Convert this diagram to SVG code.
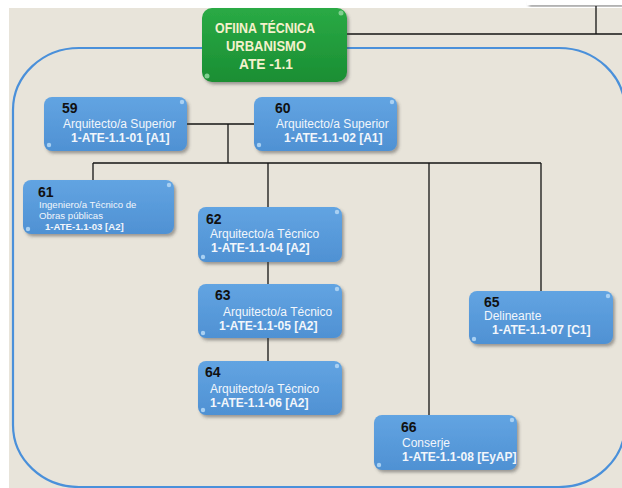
<svg xmlns="http://www.w3.org/2000/svg" width="622" height="488" viewBox="0 0 622 488">
<defs>
<filter id="sh" x="-10%" y="-10%" width="130%" height="140%">
<feDropShadow dx="2" dy="2.5" stdDeviation="1.5" flood-color="#404040" flood-opacity="0.45"/>
</filter>
<linearGradient id="gb" x1="0" y1="0" x2="0" y2="1">
<stop offset="0" stop-color="#62A4E2"/>
<stop offset="1" stop-color="#4F91D3"/>
</linearGradient>
<linearGradient id="gg" x1="0" y1="0" x2="0" y2="1">
<stop offset="0" stop-color="#2AAA45"/>
<stop offset="1" stop-color="#1A8E33"/>
</linearGradient>
<style>
.box{fill:url(#gb);filter:url(#sh);}
.dot{fill:#A9D0F2;}
.num{font-family:"Liberation Sans",Arial,sans-serif;font-weight:bold;font-size:14px;fill:#111;}
.lab{font-family:"Liberation Sans",Arial,sans-serif;font-size:12px;fill:#F2F6FB;}
.code{font-family:"Liberation Sans",Arial,sans-serif;font-weight:bold;font-size:12px;fill:#F2F6FB;}
.sm{font-size:9.6px;}
.gt{font-family:"Liberation Sans",Arial,sans-serif;font-size:14.5px;font-weight:bold;fill:#F4F1CC;text-anchor:middle;}
.ln{stroke:#141414;stroke-width:1.3;fill:none;}
</style>
</defs>
<rect x="0" y="0" width="622" height="488" fill="#FFFFFF"/>
<rect x="9" y="8" width="613" height="480" fill="#E8E4DA"/>
<rect x="527" y="0" width="95" height="5" fill="#FFFFFF" filter="url(#sh)"/>
<rect x="13" y="48" width="612" height="439" rx="66" ry="62" fill="none" stroke="#4A90DA" stroke-width="2.2"/>
<g id="connectors">
<path class="ln" d="M346 34 H622 M596 6 V34"/>
<path class="ln" d="M187 124 H254 M228 124 V163 M93 163 H541 M93 163 V180 M268 163 V208 M268 262 V284 M268 338 V361 M429 163 V415 M541 163 V291"/>
</g>
<g id="n-root">
<rect x="202" y="8" width="145" height="74" rx="10" fill="url(#gg)" filter="url(#sh)"/>
<circle cx="341" cy="13" r="2.5" fill="#7FD08F"/>
<circle cx="207" cy="76" r="2.5" fill="#7FD08F"/>
<text class="gt" x="265" y="33" textLength="100" lengthAdjust="spacingAndGlyphs">OFIINA TÉCNICA</text>
<text class="gt" x="266" y="51" textLength="80" lengthAdjust="spacingAndGlyphs">URBANISMO</text>
<text class="gt" x="266" y="69" textLength="54" lengthAdjust="spacingAndGlyphs">ATE -1.1</text>
</g>
<g id="n59">
<rect class="box" x="44" y="97" width="143" height="54" rx="8"/>
<circle class="dot" cx="182" cy="102" r="2.2"/><circle class="dot" cx="49" cy="145" r="2.2"/>
<text class="num" x="62" y="113">59</text>
<text class="lab" x="63" y="128">Arquitecto/a Superior</text>
<text class="code" x="71" y="142">1-ATE-1.1-01 [A1]</text>
</g>
<g id="n60">
<rect class="box" x="254" y="97" width="143" height="54" rx="8"/>
<circle class="dot" cx="392" cy="102" r="2.2"/><circle class="dot" cx="259" cy="145" r="2.2"/>
<text class="num" x="275" y="113">60</text>
<text class="lab" x="276" y="128">Arquitecto/a Superior</text>
<text class="code" x="284" y="142">1-ATE-1.1-02 [A1]</text>
</g>
<g id="n61">
<rect class="box" x="23" y="180" width="151" height="54" rx="8"/>
<circle class="dot" cx="169" cy="185" r="2.2"/><circle class="dot" cx="28" cy="229" r="2.2"/>
<text class="num" x="38" y="197">61</text>
<text class="lab sm" x="39" y="208">Ingeniero/a Técnico de</text>
<text class="lab sm" x="39" y="219">Obras públicas</text>
<text class="code sm" x="45" y="230">1-ATE-1.1-03 [A2]</text>
</g>
<g id="n62">
<rect class="box" x="198" y="207" width="144" height="55" rx="8"/>
<circle class="dot" cx="337" cy="212" r="2.2"/><circle class="dot" cx="203" cy="257" r="2.2"/>
<text class="num" x="206" y="224">62</text>
<text class="lab" x="210" y="238">Arquitecto/a Técnico</text>
<text class="code" x="211" y="252">1-ATE-1.1-04 [A2]</text>
</g>
<g id="n63">
<rect class="box" x="198" y="284" width="144" height="54" rx="8"/>
<circle class="dot" cx="337" cy="289" r="2.2"/><circle class="dot" cx="203" cy="333" r="2.2"/>
<text class="num" x="215" y="300">63</text>
<text class="lab" x="223" y="316">Arquitecto/a Técnico</text>
<text class="code" x="219" y="330">1-ATE-1.1-05 [A2]</text>
</g>
<g id="n64">
<rect class="box" x="198" y="361" width="144" height="54" rx="8"/>
<circle class="dot" cx="337" cy="366" r="2.2"/><circle class="dot" cx="203" cy="410" r="2.2"/>
<text class="num" x="205" y="377">64</text>
<text class="lab" x="210" y="393">Arquitecto/a Técnico</text>
<text class="code" x="210" y="407">1-ATE-1.1-06 [A2]</text>
</g>
<g id="n65">
<rect class="box" x="469" y="291" width="144" height="53" rx="8"/>
<circle class="dot" cx="608" cy="296" r="2.2"/><circle class="dot" cx="474" cy="339" r="2.2"/>
<text class="num" x="484" y="307">65</text>
<text class="lab" x="484" y="320">Delineante</text>
<text class="code" x="492" y="334">1-ATE-1.1-07 [C1]</text>
</g>
<g id="n66">
<rect class="box" x="374" y="415" width="143" height="55" rx="8"/>
<circle class="dot" cx="512" cy="420" r="2.2"/><circle class="dot" cx="379" cy="465" r="2.2"/>
<text class="num" x="401" y="432">66</text>
<text class="lab" x="402" y="447">Conserje</text>
<text class="code" x="402" y="461">1-ATE-1.1-08 [EyAP]</text>
</g>
</svg>
